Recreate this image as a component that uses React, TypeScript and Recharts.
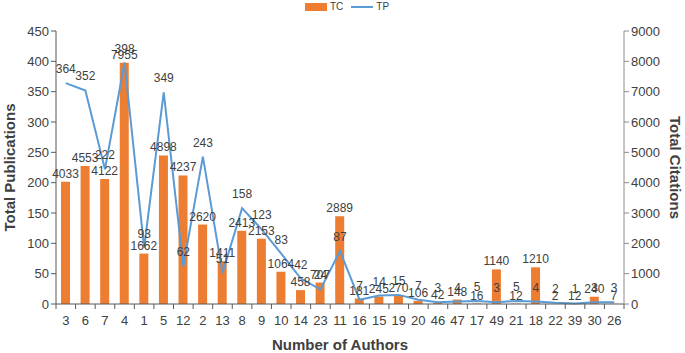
import React from 'react';
import {
  ComposedChart,
  Bar,
  Line,
  XAxis,
  YAxis,
  LabelList,
} from 'recharts';

const authors = ['3', '6', '7', '4', '1', '5', '12', '2', '13', '8', '9', '10', '14', '23', '11', '16', '15', '19', '20', '46', '47', '17', '49', '21', '18', '22', '39', '30', '26'];
const tc = [4033, 4553, 4122, 7955, 1662, 4898, 4237, 2620, 1411, 2413, 2153, 1064, 458, 707, 2889, 181, 245, 270, 106, 42, 148, 16, 1140, 12, 1210, 2, 12, 240, 7];
const tp = [364, 352, 222, 398, 93, 349, 62, 243, 51, 158, 123, 83, 42, 24, 87, 7, 14, 15, 7, 3, 4, 5, 3, 5, 4, 2, 1, 3, 3];
const leftTicks = [0, 50, 100, 150, 200, 250, 300, 350, 400, 450];
const rightTicks = [0, 1000, 2000, 3000, 4000, 5000, 6000, 7000, 8000, 9000];

const data = authors.map((a, i) => ({ authors: a, TC: tc[i], TP: tp[i] }));

const FONT = '"Liberation Sans", Arial, sans-serif';
const BAND = 568 / authors.length;

function CatTick(props: any) {
  const { x, y, payload } = props;
  return (
    <g>
      <line x1={x - BAND / 2} x2={x - BAND / 2} y1={y - 8} y2={y - 3} stroke="#595959" />
      {payload.index === authors.length - 1 && (
        <line x1={x + BAND / 2} x2={x + BAND / 2} y1={y - 8} y2={y - 3} stroke="#595959" />
      )}
      <text x={x} y={y + 13} textAnchor="middle" fontSize={13} fill="#404040" fontFamily={FONT}>
        {payload.value}
      </text>
    </g>
  );
}

const labelStyle = { fontSize: 12, fill: '#404040', fontFamily: FONT };
const titleStyle = { textAnchor: 'middle', fontFamily: FONT, fontSize: 15, fontWeight: 'bold', fill: '#404040' };

export default function App() {
  return (
    <div style={{ position: 'absolute', left: 0, top: 0, width: 685, height: 353, background: '#fff' }}>
      <div
        style={{
          position: 'absolute',
          top: 1,
          left: 305,
          display: 'flex',
          alignItems: 'center',
          fontFamily: FONT,
          fontSize: 10,
          color: '#404040',
        }}
      >
        <span style={{ display: 'inline-block', width: 22, height: 8, background: '#ED7D31', marginRight: 3 }} />
        <span style={{ marginRight: 8 }}>TC</span>
        <span style={{ display: 'inline-block', width: 22, height: 2, background: '#5B9BD5', marginRight: 3 }} />
        <span>TP</span>
      </div>
      <ComposedChart
        width={685}
        height={353}
        data={data}
        margin={{ top: 31, right: 0, bottom: 0, left: 0 }}
      >
        <XAxis
          dataKey="authors"
          interval={0}
          tick={<CatTick />}
          tickLine={false}
          axisLine={{ stroke: '#595959' }}
          height={49}
          label={{
            value: 'Number of Authors',
            position: 'insideBottom',
            offset: 3,
            style: titleStyle,
          }}
        />
        <YAxis
          yAxisId="left"
          width={56}
          domain={[0, 450]}
          ticks={leftTicks}
          interval={0}
          tick={{ fontSize: 13, fill: '#404040', fontFamily: FONT }}
          tickLine={{ stroke: '#595959' }}
          tickSize={5}
          axisLine={{ stroke: '#595959' }}
          label={{
            value: 'Total Publications',
            angle: -90,
            position: 'insideLeft',
            offset: 10,
            style: titleStyle,
          }}
        />
        <YAxis
          yAxisId="right"
          orientation="right"
          width={61}
          domain={[0, 9000]}
          ticks={rightTicks}
          interval={0}
          tick={{ fontSize: 13, fill: '#404040', fontFamily: FONT }}
          tickLine={{ stroke: '#8c8c8c' }}
          tickSize={5}
          axisLine={{ stroke: '#8c8c8c' }}
          label={{
            value: 'Total Citations',
            angle: 90,
            position: 'insideRight',
            offset: 10,
            style: titleStyle,
          }}
        />
        <Bar yAxisId="right" dataKey="TC" fill="#ED7D31" barSize={9} isAnimationActive={false}>
          <LabelList dataKey="TC" position="top" offset={4} style={labelStyle} />
        </Bar>
        <Line
          yAxisId="left"
          dataKey="TP"
          stroke="#5B9BD5"
          strokeWidth={2}
          dot={false}
          type="linear"
          isAnimationActive={false}
        >
          <LabelList dataKey="TP" position="top" offset={10} style={labelStyle} />
        </Line>
      </ComposedChart>
    </div>
  );
}
